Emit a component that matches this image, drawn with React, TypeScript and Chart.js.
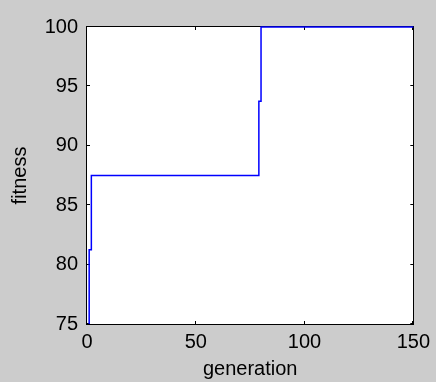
import React, { useEffect, useRef } from "react";
import { Chart, registerables } from "chart.js";

Chart.register(...registerables);

// Data (best-fitness per generation, step changes only)
const generations = [1, 1, 2, 79, 80, 150];
const fitness = [75, 81.25, 87.5, 93.75, 100, 100];
const xTicks = [0, 50, 100, 150];
const yTicks = [75, 80, 85, 90, 95, 100];

const FONT = "'Liberation Sans', Arial, sans-serif";
const FONT_SIZE = 20;

const framePlugin = {
  id: "matlabFrame",
  beforeDraw(chart: any) {
    const { ctx, chartArea } = chart;
    ctx.save();
    ctx.fillStyle = "#ffffff";
    ctx.fillRect(chartArea.left, chartArea.top, chartArea.right - chartArea.left, chartArea.bottom - chartArea.top);
    ctx.restore();
  },
  beforeDatasetsDraw(chart: any) {
    const { ctx, chartArea, scales } = chart;
    const { left, right, top, bottom } = chartArea;
    ctx.save();
    ctx.strokeStyle = "#000000";
    ctx.lineWidth = 1;
    ctx.strokeRect(Math.round(left) - 0.5, Math.round(top) - 0.5, Math.round(right - left) + 1, Math.round(bottom - top) + 1);
    const tl = 3;
    ctx.beginPath();
    xTicks.forEach((v) => {
      const px = Math.round(scales.x.getPixelForValue(v)) - 0.5;
      ctx.moveTo(px, bottom);
      ctx.lineTo(px, bottom - tl);
      ctx.moveTo(px, top);
      ctx.lineTo(px, top + tl);
    });
    yTicks.forEach((v) => {
      const py = Math.round(scales.y.getPixelForValue(v)) - 0.5;
      ctx.moveTo(left, py);
      ctx.lineTo(left + tl, py);
      ctx.moveTo(right, py);
      ctx.lineTo(right - tl, py);
    });
    ctx.stroke();
    ctx.restore();
  },
};

export default function App() {
  const canvasRef = useRef<HTMLCanvasElement | null>(null);

  useEffect(() => {
    document.body.style.margin = "0";
    const canvas = canvasRef.current;
    if (!canvas) return;
    const chart = new Chart(canvas, {
      type: "line",
      data: {
        datasets: [
          {
            data: generations.map((g, i) => ({ x: g, y: fitness[i] })),
            borderColor: "#0000ff",
            borderWidth: 1.5,
            pointRadius: 0,
            fill: false,
            stepped: true,
            clip: false as any,
            tension: 0,
          },
        ],
      },
      options: {
        animation: false,
        responsive: false,
        devicePixelRatio: 1,
        layout: { padding: { top: 27, right: 21, left: 0, bottom: 0 } },
        plugins: {
          legend: { display: false },
          tooltip: { enabled: false },
        },
        scales: {
          x: {
            type: "linear",
            min: 0,
            max: 150,
            afterBuildTicks: (scale: any) => {
              scale.ticks = xTicks.map((v) => ({ value: v }));
            },
            afterFit: (scale: any) => {
              scale.height = 58;
            },
            ticks: {
              color: "#000000",
              font: { family: FONT, size: FONT_SIZE },
              padding: 6,
              maxRotation: 0,
            },
            grid: { display: false, drawTicks: false },
            border: { display: false },
            title: {
              display: true,
              text: "generation",
              color: "#000000",
              font: { family: FONT, size: FONT_SIZE },
              padding: { top: 0, bottom: 1 },
            },
          },
          y: {
            type: "linear",
            min: 75,
            max: 100,
            afterBuildTicks: (scale: any) => {
              scale.ticks = yTicks.map((v) => ({ value: v }));
            },
            afterFit: (scale: any) => {
              scale.width = 87;
            },
            ticks: {
              color: "#000000",
              font: { family: FONT, size: FONT_SIZE },
              padding: 9,
            },
            grid: { display: false, drawTicks: false },
            border: { display: false },
            title: {
              display: true,
              text: "fitness",
              color: "#000000",
              font: { family: FONT, size: FONT_SIZE },
              padding: { top: 8, bottom: 0 },
            },
          },
        },
      },
      plugins: [framePlugin],
    });
    return () => chart.destroy();
  }, []);

  return (
    <div style={{ position: "absolute", left: 0, top: 0, width: 436, height: 382, background: "#cccccc" }}>
      <canvas ref={canvasRef} width={436} height={382} style={{ display: "block" }} />
    </div>
  );
}
